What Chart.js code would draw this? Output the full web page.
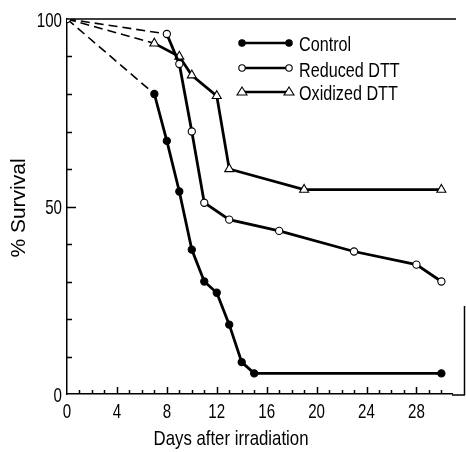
<!DOCTYPE html>
<html>
<head>
<meta charset="utf-8">
<script src="https://cdn.jsdelivr.net/npm/chart.js@4.4.1/dist/chart.umd.min.js"></script>
<style>
  html, body { margin: 0; padding: 0; background: #fff; }
  #wrap { width: 466px; height: 452px; }
</style>
</head>
<body>
<div id="wrap"><canvas id="myChart" width="466" height="452"></canvas></div>
<script>
const controlDays = [0, 7, 8, 9, 10, 11, 12, 13, 14, 15, 30];
const controlSurvival = [100, 80, 67.5, 54, 38.5, 30, 27, 18.5, 8.5, 5.5, 5.5];
const reducedDays = [0, 8, 9, 10, 11, 13, 17, 23, 28, 30];
const reducedSurvival = [100, 96, 88, 70, 51, 46.5, 43.5, 38, 34.5, 30];
const oxidizedDays = [0, 7, 9, 10, 12, 13, 19, 30];
const oxidizedSurvival = [100, 93.5, 90, 85, 79.5, 60, 54.5, 54.5];
const seriesNames = ["Control", "Reduced DTT", "Oxidized DTT"];
const xTickLabels = [0, 4, 8, 12, 16, 20, 24, 28];
const yTickLabels = [0, 50, 100];

const FONT = "'Liberation Sans', Arial, sans-serif";

function toPoints(xs, ys) {
  return xs.map((d, i) => ({ x: d, y: ys[i] }));
}

// first segment from day 0 is dashed
const dashFirst = {
  borderDash: (c) => (c.p0DataIndex === 0 ? [9, 5] : undefined),
  borderWidth: (c) => (c.p0DataIndex === 0 ? 1.6 : undefined),
};

const styles = [
  { style: "circle", fill: "#000", r: 3.6 },
  { style: "circle", fill: "#fff", r: 3.6 },
  { style: "triangle", fill: "#fff", r: 5.2 },
];

function mark(ctx, s, x, y, r) {
  ctx.beginPath();
  if (s.style === "circle") {
    ctx.arc(x, y, r, 0, Math.PI * 2);
  } else {
    ctx.moveTo(x, y - r);
    ctx.lineTo(x + r, y + r * 0.6);
    ctx.lineTo(x - r, y + r * 0.6);
    ctx.closePath();
  }
  ctx.fillStyle = s.fill;
  ctx.fill();
  ctx.lineWidth = 1.1;
  ctx.strokeStyle = "#000";
  ctx.stroke();
}

// narrow lettering like the original: squeeze the text horizontally
function txt(ctx, s, x, y, size, sx, align, rot) {
  ctx.save();
  ctx.translate(x, y);
  if (rot) ctx.rotate(-Math.PI / 2);
  ctx.scale(sx, 1);
  ctx.font = size + "px " + FONT;
  ctx.textAlign = align;
  ctx.textBaseline = "alphabetic";
  ctx.fillStyle = "#000";
  ctx.fillText(s, 0, 0);
  ctx.restore();
}

const decor = {
  id: "decor",
  afterDraw(chart) {
    const { ctx, chartArea: a, scales } = chart;
    const x = scales.x, y = scales.y;
    ctx.save();
    ctx.strokeStyle = "#000";
    ctx.lineWidth = 1.5;
    ctx.beginPath();
    // top rule
    ctx.moveTo(a.left, a.top);
    ctx.lineTo(a.right + 4, a.top);
    // bottom axis stub and right edge
    ctx.moveTo(a.right, a.bottom + 1);
    ctx.lineTo(465, a.bottom + 1);
    ctx.moveTo(464.5, a.bottom + 1);
    ctx.lineTo(464.5, 306);
    // x ticks, pointing up
    for (let d = 1; d <= 30; d++) {
      const px = Math.round(x.getPixelForValue(d)) + 0.5;
      const len = d % 4 === 0 ? 7 : 4;
      ctx.moveTo(px, a.bottom);
      ctx.lineTo(px, a.bottom - len);
    }
    // y ticks, pointing right
    for (let v = 10; v <= 90; v += 10) {
      const py = Math.round(y.getPixelForValue(v)) + 0.5;
      const len = v === 50 ? 9 : 5;
      ctx.moveTo(a.left, py);
      ctx.lineTo(a.left + len, py);
    }
    ctx.stroke();

    // tick labels
    xTickLabels.forEach((v) => {
      txt(ctx, String(v), x.getPixelForValue(v), a.bottom + 24, 21, 0.72, "center");
    });
    yTickLabels.forEach((v) => {
      txt(ctx, String(v), a.left - 5, y.getPixelForValue(v) + 7.5, 21, 0.72, "right");
    });
    // axis titles
    txt(ctx, "Days after irradiation", 231, 445, 21, 0.8, "center");
    txt(ctx, "% Survival", 25, 208, 21, 1, "center", true);

    // legend inside the plot
    const lx0 = 242, lx1 = 289, tx = 299;
    const rows = [43, 68, 92];
    const base = [51, 77, 100];
    seriesNames.forEach((name, i) => {
      const ly = rows[i];
      ctx.beginPath();
      ctx.lineWidth = 2.5;
      ctx.strokeStyle = "#000";
      ctx.moveTo(lx0, ly);
      ctx.lineTo(lx1, ly);
      ctx.stroke();
      const s = styles[i];
      const r = s.style === "triangle" ? 5 : 3.2;
      mark(ctx, s, lx0, ly, r);
      mark(ctx, s, lx1, ly, r);
      txt(ctx, name, tx, base[i], 21, 0.77, "left");
    });
    ctx.restore();
  },
};

function makeSet(label, xs, ys, idx) {
  const s = styles[idx];
  return {
    label: label,
    data: toPoints(xs, ys),
    borderColor: "#000",
    borderWidth: 2.8,
    backgroundColor: s.fill,
    pointStyle: s.style,
    pointRadius: (c) => (c.dataIndex === 0 && idx !== 1 ? 0 : s.r),
    pointBorderWidth: 1.1,
    pointBorderColor: "#000",
    pointBackgroundColor: s.fill,
    tension: 0,
    segment: dashFirst,
    order: idx === 1 ? 0 : idx + 1,
  };
}

const ctx = document.getElementById("myChart");

new Chart(ctx, {
  type: "line",
  data: {
    datasets: [
      makeSet(seriesNames[0], controlDays, controlSurvival, 0),
      makeSet(seriesNames[1], reducedDays, reducedSurvival, 1),
      makeSet(seriesNames[2], oxidizedDays, oxidizedSurvival, 2),
    ],
  },
  options: {
    responsive: false,
    animation: false,
    devicePixelRatio: 1,
    layout: { padding: { top: 19, right: 14, left: 0, bottom: 0 } },
    plugins: {
      legend: { display: false },
      tooltip: { enabled: false },
    },
    scales: {
      x: {
        type: "linear",
        min: 0,
        max: 30.85,
        afterFit: (s) => { s.height = 58; },
        afterBuildTicks: (s) => {
          s.ticks = xTickLabels.map((v) => ({ value: v }));
        },
        grid: { drawOnChartArea: false, drawTicks: false },
        border: { color: "#000", width: 1.5 },
        ticks: { display: false },
        title: { display: false, text: "Days after irradiation" },
      },
      y: {
        min: 0,
        max: 100,
        afterFit: (s) => { s.width = 67; },
        afterBuildTicks: (s) => {
          s.ticks = yTickLabels.map((v) => ({ value: v }));
        },
        grid: { drawOnChartArea: false, drawTicks: false },
        border: { color: "#000", width: 1.5 },
        ticks: { display: false },
        title: { display: false, text: "% Survival" },
      },
    },
  },
  plugins: [decor],
});
</script>
</body>
</html>
